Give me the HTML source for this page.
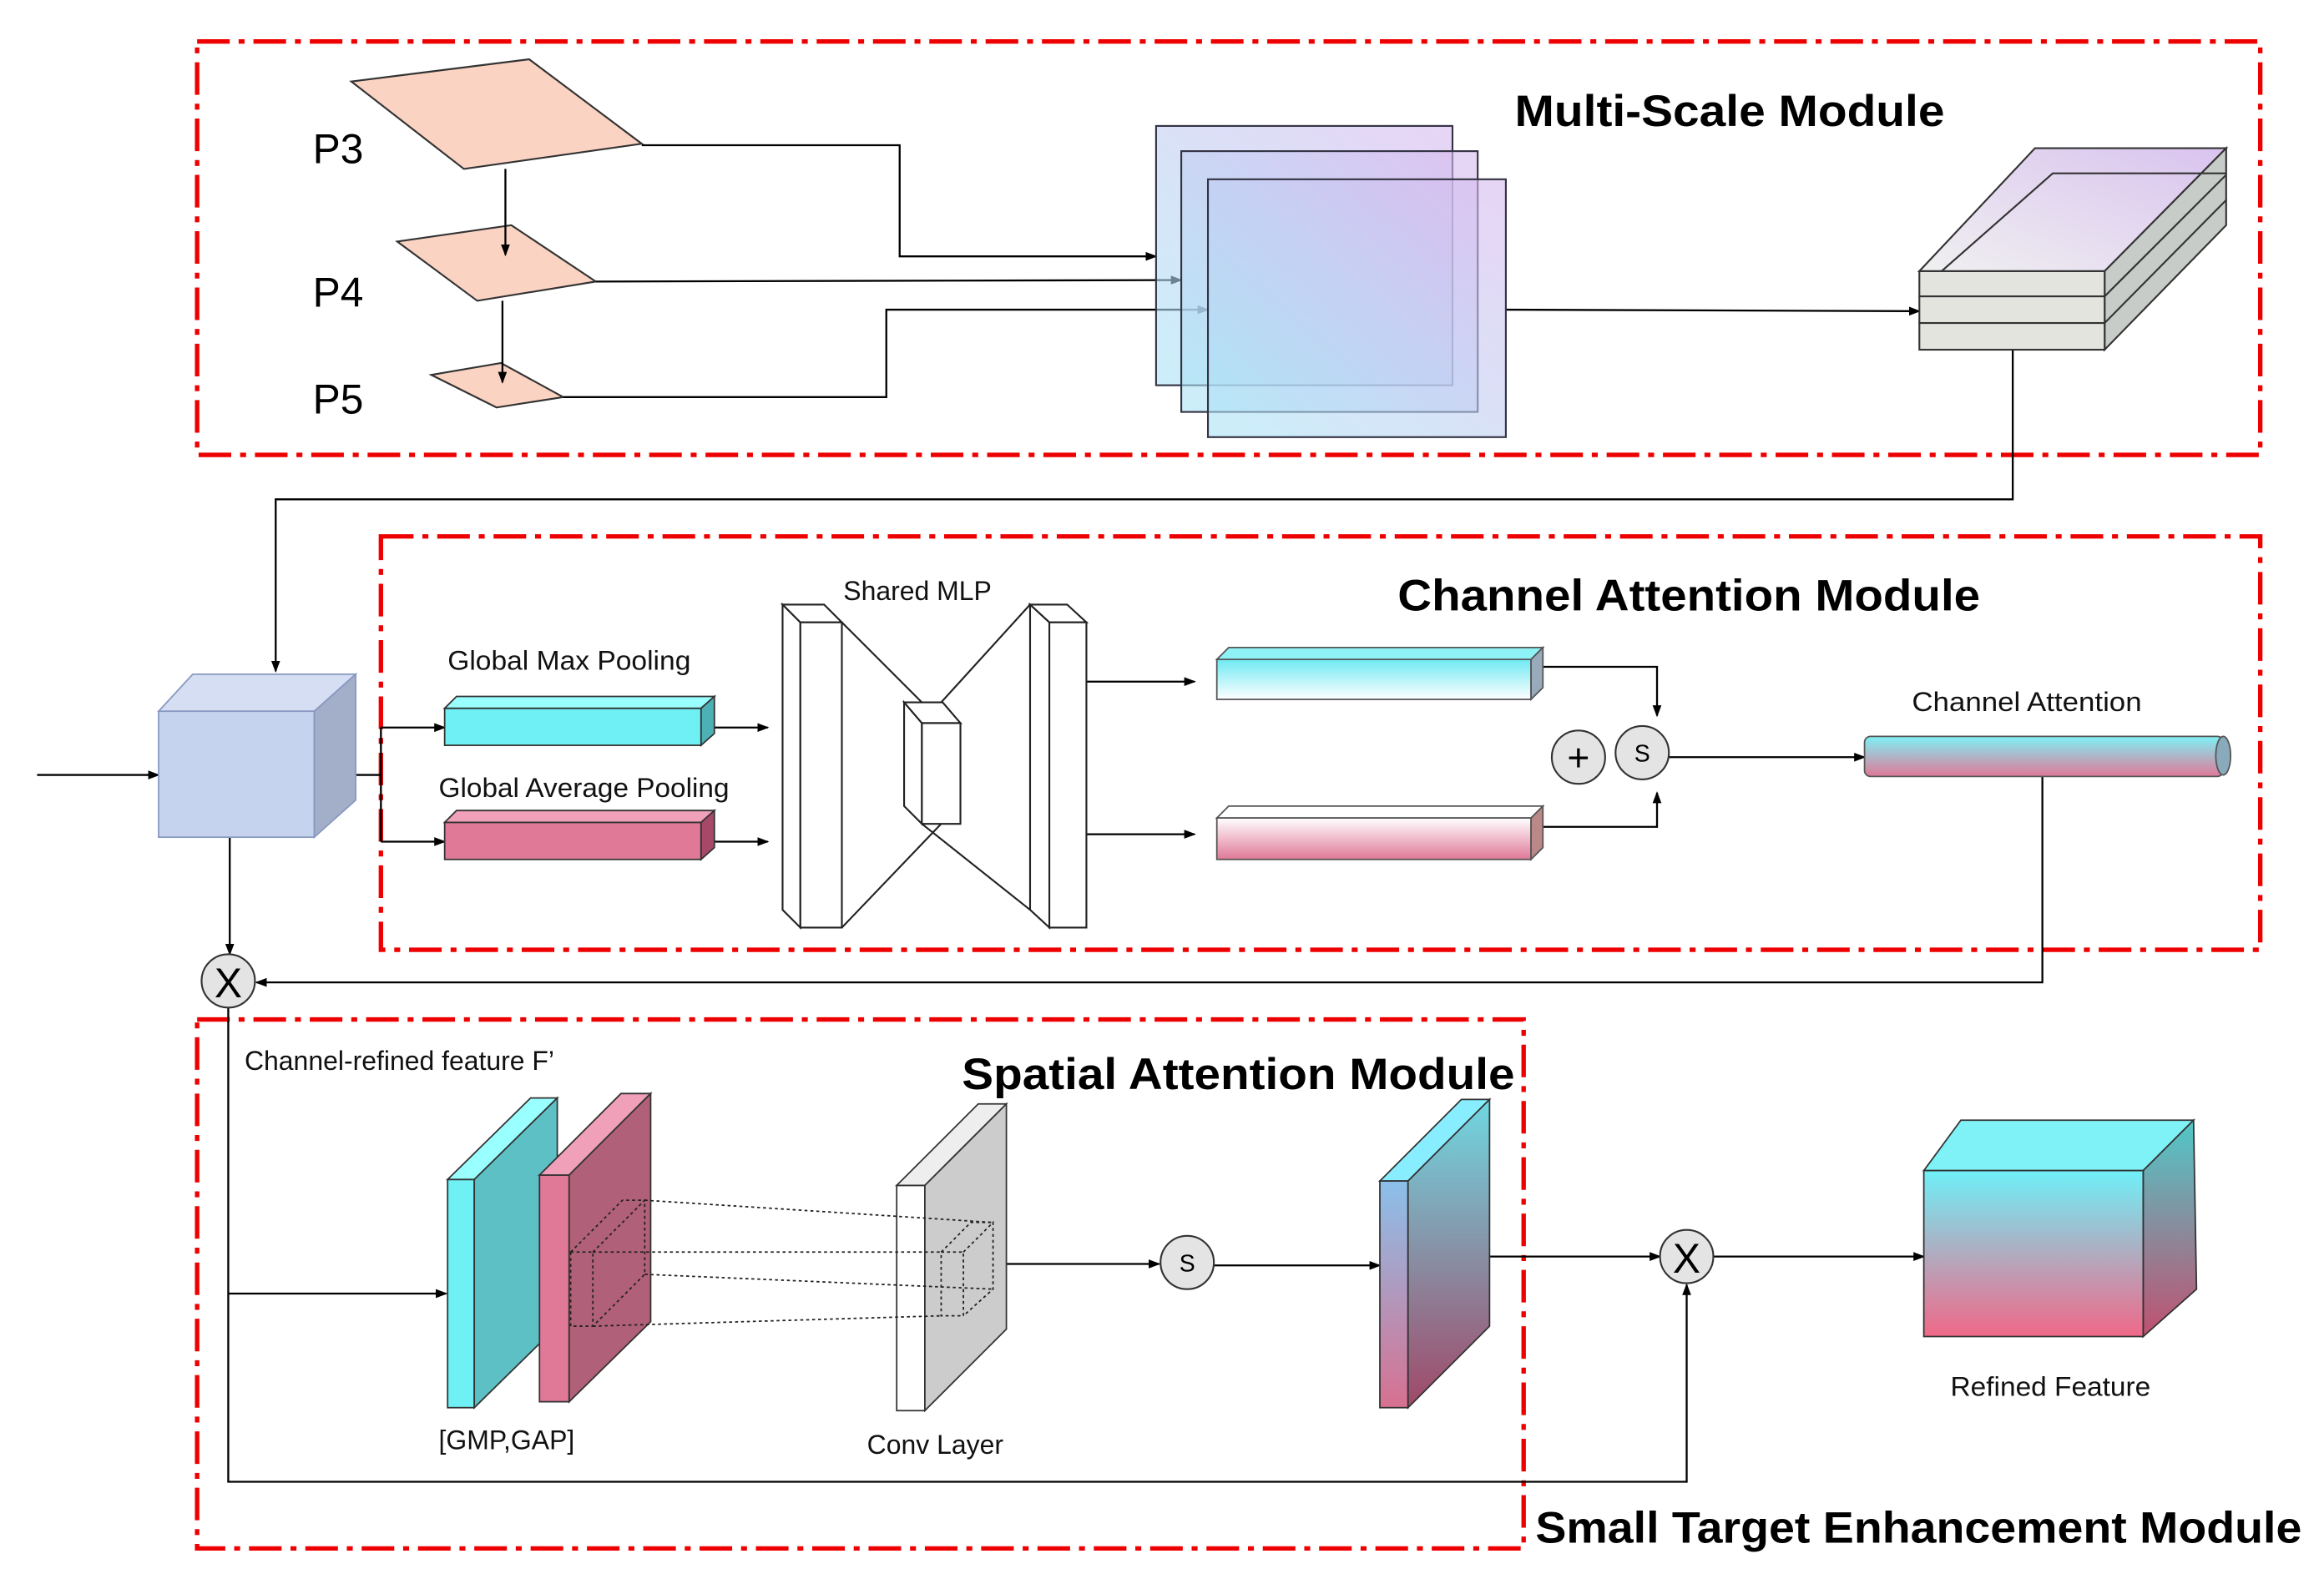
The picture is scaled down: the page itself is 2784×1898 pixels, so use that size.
<!DOCTYPE html>
<html><head><meta charset="utf-8"><style>html,body{margin:0;padding:0;background:#fff}svg{display:block}</style></head>
<body>
<svg width="2784" height="1898" viewBox="0 0 1568 1069" xmlns="http://www.w3.org/2000/svg" font-family="Liberation Sans, sans-serif">
<defs>
<marker id="a" markerWidth="8" markerHeight="8" refX="7" refY="4" orient="auto" markerUnits="userSpaceOnUse"><path d="M0,1 L8,4 L0,7z" fill="#000"/></marker>
<linearGradient id="sq" x1="0" y1="1" x2="1" y2="0"><stop offset="0" stop-color="#a8e4f6" stop-opacity=".6"/><stop offset="1" stop-color="#d8b8ee" stop-opacity=".6"/></linearGradient>
<linearGradient id="top" x1="0" y1="1" x2="1" y2="0"><stop offset="0" stop-color="#f0f0f0"/><stop offset="1" stop-color="#d9c3ef"/></linearGradient>
<linearGradient id="cb" x1="0" y1="0" x2="0" y2="1"><stop offset="0" stop-color="#6fe9f2"/><stop offset="1" stop-color="#fff"/></linearGradient>
<linearGradient id="pb" x1="0" y1="0" x2="0" y2="1"><stop offset="0" stop-color="#fff"/><stop offset="1" stop-color="#e07898"/></linearGradient>
<linearGradient id="ca" x1="0" y1="0" x2="0" y2="1"><stop offset="0" stop-color="#7ef0f5"/><stop offset="1" stop-color="#e07898"/></linearGradient>
<linearGradient id="of" x1="0" y1="0" x2="0" y2="1"><stop offset="0" stop-color="#8ac0ea"/><stop offset="1" stop-color="#d87090"/></linearGradient>
<linearGradient id="os" x1="0" y1="0" x2="0" y2="1"><stop offset="0" stop-color="#6fd8e2"/><stop offset="1" stop-color="#a04868"/></linearGradient>
<linearGradient id="rf" x1="0" y1="0" x2="0" y2="1"><stop offset="0" stop-color="#6ff0f8"/><stop offset="1" stop-color="#f06888"/></linearGradient>
<linearGradient id="rs" x1="0" y1="0" x2="0" y2="1"><stop offset="0" stop-color="#50c8c8"/><stop offset="1" stop-color="#c05070"/></linearGradient>
</defs>
<g fill="none" stroke="#e00" stroke-width="3" stroke-dasharray="22,6,4,6">
<rect x="133" y="28" width="1392" height="279"/>
<rect x="257" y="362" width="1268" height="279"/>
<rect x="133" y="688" width="895" height="357"/>
</g>
<g font-weight="bold" font-size="30" fill="#000">
<text x="1022" y="85" textLength="290" lengthAdjust="spacingAndGlyphs">Multi-Scale Module</text>
<text x="943" y="412" textLength="393" lengthAdjust="spacingAndGlyphs">Channel Attention Module</text>
<text x="649" y="735" textLength="373" lengthAdjust="spacingAndGlyphs">Spatial Attention Module</text>
<text x="1036" y="1041" textLength="517" lengthAdjust="spacingAndGlyphs">Small Target Enhancement Module</text>
</g>
<g font-size="28" fill="#000"><text x="211" y="110">P3</text><text x="211" y="207">P4</text><text x="211" y="279">P5</text></g>
<g fill="#fbd3c3" stroke="#333" stroke-width="1.2">
<path d="M237,55 L357,40 L433,97 L313,114Z"/><path d="M268,163 L345,152 L402,190 L322,203Z"/><path d="M291,253 L338,245 L380,268 L335,275Z"/>
</g>
<g fill="none" stroke="#000" stroke-width="1.3" marker-end="url(#a)">
<path d="M341,114 V172"/><path d="M339,203 V258"/>
<path d="M433,98 H607 V173 H780"/><path d="M402,190 L797,189"/><path d="M380,268 H598 V209 H815"/>
<path d="M1016,209 L1295,210"/>
<path d="M1358,236 V337 H186 V453"/>
<path d="M25,523 H107"/>
<path d="M257,491 H300"/><path d="M257,568 H300"/>
<path d="M482,491 H518"/><path d="M482,568 H518"/>
<path d="M733,460 H806"/><path d="M733,563 H806"/>
<path d="M1041,450 H1118 V483"/><path d="M1041,558 H1118 V535"/>
<path d="M1126,511 H1258"/>
<path d="M1378,524 V663 H173"/>
<path d="M155,565 V644"/>
<path d="M154,680 V1000 H1138 V867"/>
<path d="M154,873 H301"/>
<path d="M662,853 H782"/><path d="M819,854 H931"/>
<path d="M978,848 H1120"/><path d="M1156,848 H1298"/>
</g>
<path d="M212,523 H257 M257,491 V568" stroke="#000" stroke-width="1.3" fill="none"/>
<g stroke="#334" stroke-width="1.2" fill="url(#sq)">
<rect x="780" y="85" width="200" height="175"/><rect x="797" y="102" width="200" height="176"/><rect x="815" y="121" width="201" height="174"/>
</g>
<g stroke="#333" stroke-width="1.2">
<path d="M1295,183 L1373,100 L1502,100 L1420,183Z" fill="url(#top)"/>
<path d="M1420,183 L1502,100 L1502,152 L1420,236Z" fill="#c8ccc8"/>
<rect x="1295" y="183" width="125" height="17" fill="#e4e4df"/><rect x="1295" y="200" width="125" height="18" fill="#e4e4df"/><rect x="1295" y="218" width="125" height="18" fill="#e4e4df"/>
<path d="M1420,200 L1502,118 M1420,218 L1502,135 M1310,183 L1385,117 L1502,117" fill="none"/>
</g>
<g stroke="#8898c0" stroke-width="1">
<path d="M107,480 L130,455 L240,455 L212,480Z" fill="#d5def2"/>
<path d="M212,480 L240,455 L240,540 L212,565Z" fill="#a3aec8"/>
<rect x="107" y="480" width="105" height="85" fill="#c5d3ee"/>
</g>
<g font-size="18" fill="#111">
<text x="302" y="452" textLength="164" lengthAdjust="spacingAndGlyphs">Global Max Pooling</text><text x="296" y="538" textLength="196" lengthAdjust="spacingAndGlyphs">Global Average Pooling</text>
<text x="569" y="405">Shared MLP</text><text x="1290" y="480" textLength="155" lengthAdjust="spacingAndGlyphs">Channel Attention</text>
<text x="165" y="722">Channel-refined feature F’</text><text x="296" y="978">[GMP,GAP]</text>
<text x="585" y="981">Conv Layer</text><text x="1316" y="942" textLength="135" lengthAdjust="spacingAndGlyphs">Refined Feature</text>
</g>
<g stroke="#333" stroke-width="1">
<rect x="300" y="478" width="173" height="25" fill="#6ff0f5"/><path d="M300,478 L308,470 L482,470 L473,478Z" fill="#9ff"/><path d="M473,478 L482,470 L482,495 L473,503Z" fill="#4cb0b5"/>
<rect x="300" y="555" width="173" height="25" fill="#e07898"/><path d="M300,555 L308,547 L482,547 L473,555Z" fill="#f0a0b8"/><path d="M473,555 L482,547 L482,572 L473,580Z" fill="#a84868"/>
</g>
<g stroke="#222" stroke-width="1.2" fill="#fff">
<path d="M528,408 L540,420 L540,626 L528,614Z"/><path d="M528,408 L556,408 L568,420 L540,420Z"/><rect x="540" y="420" width="28" height="206"/>
<path d="M568,420 L622,474 M568,626 L635,556 M635,474 L695,408 M622,556 L695,614" fill="none"/>
<path d="M610,474 L622,488 L622,556 L610,544Z"/><path d="M610,474 L636,474 L648,488 L622,488Z"/><rect x="622" y="488" width="26" height="68"/>
<path d="M695,408 L708,420 L708,626 L695,614Z"/><path d="M695,408 L720,408 L733,420 L708,420Z"/><rect x="708" y="420" width="25" height="206"/>
</g>
<g stroke="#555" stroke-width="1">
<rect x="821" y="445" width="212" height="27" fill="url(#cb)"/><path d="M821,445 L829,437 L1041,437 L1033,445Z" fill="#8ef2f6"/><path d="M1033,445 L1041,437 L1041,464 L1033,472Z" fill="#9ab"/>
<rect x="821" y="552" width="212" height="28" fill="url(#pb)"/><path d="M821,552 L829,544 L1041,544 L1033,552Z" fill="#fff"/><path d="M1033,552 L1041,544 L1041,572 L1033,580Z" fill="#b88"/>
<rect x="1258" y="497" width="242" height="27" rx="4" fill="url(#ca)"/><ellipse cx="1500" cy="510" rx="5" ry="13" fill="#8ab"/>
</g>
<g stroke="#333" stroke-width="1.2" fill="#e4e4e4">
<circle cx="1065" cy="511" r="18"/><circle cx="1108" cy="508" r="18"/><circle cx="154" cy="662" r="18"/><circle cx="801" cy="852" r="18"/><circle cx="1138" cy="848" r="18"/>
</g>
<g font-size="20" text-anchor="middle" fill="#000">
<text x="1065" y="520" font-size="26">+</text><text x="1108" y="514" font-size="16">S</text><text x="801" y="858" font-size="16">S</text>
<text x="154" y="673" font-size="28">X</text><text x="1138" y="859" font-size="28">X</text>
</g>
<g stroke="#333" stroke-width="1">
<rect x="302" y="796" width="18" height="154" fill="#6ff0f5"/><path d="M302,796 L358,741 L376,741 L320,796Z" fill="#9ff"/><path d="M320,796 L376,741 L376,895 L320,950Z" fill="#5cc0c5"/>
<rect x="364" y="793" width="20" height="153" fill="#e07898"/><path d="M364,793 L419,738 L439,738 L384,793Z" fill="#f0a0b8"/><path d="M384,793 L439,738 L439,892 L384,946Z" fill="#b06078"/>
<rect x="605" y="800" width="19" height="152" fill="#fff"/><path d="M605,800 L660,745 L679,745 L624,800Z" fill="#eee"/><path d="M624,800 L679,745 L679,897 L624,952Z" fill="#ccc"/>
<rect x="931" y="797" width="19" height="153" fill="url(#of)"/><path d="M931,797 L986,742 L1005,742 L950,797Z" fill="#8ef"/><path d="M950,797 L1005,742 L1005,895 L950,950Z" fill="url(#os)"/>
<path d="M1298,790 L1323,756 L1480,756 L1446,790Z" fill="#7ff2f8"/><path d="M1446,790 L1480,756 L1482,870 L1446,902Z" fill="url(#rs)"/><rect x="1298" y="790" width="148" height="112" fill="url(#rf)"/>
</g>
<g stroke="#222" stroke-width="1" stroke-dasharray="2,2" fill="none">
<path d="M385,845 H400 V895 H385Z M400,845 L435,810 V860 L400,895 M385,845 L420,810 H435"/>
<path d="M635,845 H650 V888 H635Z M650,845 L670,825 V870 L650,888 M635,845 L655,825 H670"/>
<path d="M400,845 L635,845 M435,810 L670,825 M400,895 L635,888 M435,860 L670,870"/>
</g>
</svg>
</body></html>
